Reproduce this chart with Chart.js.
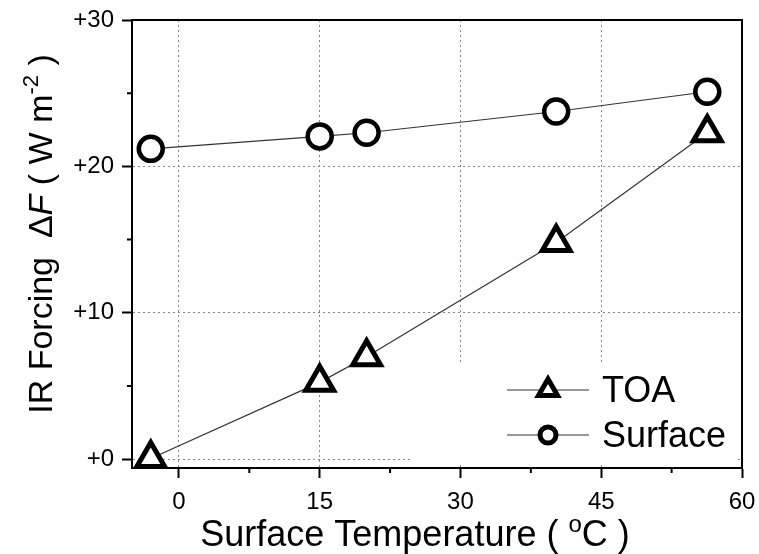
<!DOCTYPE html>
<html>
<head>
<meta charset="utf-8">
<script src="https://cdn.jsdelivr.net/npm/chart.js@4"></script>
<style>
body { margin: 0; background: #fff; }
</style>
</head>
<body>
<canvas id="chart" width="759" height="554"></canvas>
<script>
var temps = [-3, 15, 20, 40.2, 56.3];
var toa = [0.05, 5.25, 7.0, 14.8, 22.3];
var surface = [21.2, 22.05, 22.3, 23.75, 25.1];
var seriesNames = ['TOA', 'Surface'];
var xTicks = [0, 15, 30, 45, 60];
var yTicks = [0, 10, 20, 30];
var xMinor = [7.5, 22.5, 37.5, 52.5];
var yMinor = [5, 15, 25];

var FONT = '"Liberation Sans", Arial, sans-serif';

function points(ys) {
  return temps.map(function (t, i) { return {x: t, y: ys[i]}; });
}

// draws a run of text pieces one after another, [text, font, raise]
function drawPieces(ctx, pieces, x, y, align) {
  var total = 0;
  pieces.forEach(function (p) { ctx.font = p[1]; total += ctx.measureText(p[0]).width; });
  var cx = align === 'center' ? x - total / 2 : x;
  pieces.forEach(function (p) {
    ctx.font = p[1];
    ctx.fillText(p[0], cx, y - (p[2] || 0));
    cx += ctx.measureText(p[0]).width;
  });
}

function noPad(s) {
  s.paddingLeft = 0; s.paddingRight = 0; s.paddingTop = 0; s.paddingBottom = 0;
}

var extras = {
  id: 'extras',
  afterDatasetsDraw: function (chart) {
    var ctx = chart.ctx, a = chart.chartArea;
    ctx.save();
    // legend inside the plot, bottom right
    ctx.fillStyle = '#fff';
    ctx.fillRect(a.right - 330, a.bottom - 106, 326, 100);
    var lx = a.right - 235, ly = a.bottom - 78;
    chart.data.datasets.forEach(function (ds, i) {
      var y = ly + i * 45;
      ctx.strokeStyle = ds.borderColor;
      ctx.lineWidth = ds.borderWidth;
      ctx.beginPath();
      ctx.moveTo(lx, y);
      ctx.lineTo(lx + 82, y);
      ctx.stroke();
      ctx.fillStyle = '#fff';
      ctx.strokeStyle = '#000';
      ctx.lineWidth = 5;
      Chart.helpers.drawPoint(ctx, {
        pointStyle: ds.pointStyle,
        radius: ds.pointStyle === 'triangle' ? 11 : 8,
        borderWidth: 5,
        rotation: 0
      }, lx + 41, y);
      ctx.fillStyle = '#000';
      ctx.font = '36px ' + FONT;
      ctx.textBaseline = 'middle';
      ctx.textAlign = 'left';
      ctx.fillText(ds.label, lx + 95, y + 2);
    });
    ctx.restore();
  },
  afterDraw: function (chart) {
    var ctx = chart.ctx, a = chart.chartArea;
    var xs = chart.scales.x, ys = chart.scales.y;
    ctx.save();
    ctx.strokeStyle = '#000';
    ctx.lineWidth = 2;
    ctx.strokeRect(a.left, a.top, a.right - a.left, a.bottom - a.top);
    ctx.beginPath();
    yMinor.forEach(function (v) {
      var y = ys.getPixelForValue(v);
      ctx.moveTo(a.left - 5, y);
      ctx.lineTo(a.left, y);
    });
    xMinor.forEach(function (v) {
      var x = xs.getPixelForValue(v);
      ctx.moveTo(x, a.bottom);
      ctx.lineTo(x, a.bottom + 5);
    });
    ctx.stroke();

    // axis titles
    ctx.fillStyle = '#000';
    ctx.textBaseline = 'alphabetic';
    ctx.textAlign = 'left';
    var f = '36px ' + FONT, fs = '24px ' + FONT;
    drawPieces(ctx, [
      ['Surface Temperature ( ', f],
      ['o', fs, 14],
      ['C )', f]
    ], 415, 546, 'center');

    ctx.translate(52, 234);
    ctx.rotate(-Math.PI / 2);
    drawPieces(ctx, [
      ['IR Forcing  \u0394', '34px ' + FONT],
      ['F', 'italic 34px ' + FONT],
      [' ( W m', '34px ' + FONT],
      ['-2', '22px ' + FONT, 14],
      [' )', '34px ' + FONT]
    ], 0, 0, 'center');
    ctx.restore();
  }
};

new Chart(document.getElementById('chart').getContext('2d'), {
  type: 'line',
  data: {
    datasets: [{
      label: seriesNames[0],
      data: points(toa),
      borderColor: '#333',
      borderWidth: 1.2,
      pointStyle: 'triangle',
      pointRadius: 16,
      pointBorderWidth: 5,
      pointBorderColor: '#000',
      pointBackgroundColor: '#fff',
      tension: 0,
      clip: 0
    }, {
      label: seriesNames[1],
      data: points(surface),
      borderColor: '#333',
      borderWidth: 1.2,
      pointStyle: 'circle',
      pointRadius: 12,
      pointBorderWidth: 4.5,
      pointBorderColor: '#000',
      pointBackgroundColor: '#fff',
      tension: 0,
      clip: 0
    }]
  },
  options: {
    responsive: false,
    animation: false,
    layout: { autoPadding: false, padding: { top: 20, right: 17, left: 0, bottom: 0 } },
    plugins: { legend: { display: false }, tooltip: { enabled: false } },
    scales: {
      x: {
        type: 'linear',
        min: -5,
        max: 60,
        afterBuildTicks: function (s) { s.ticks = xTicks.map(function (v) { return {value: v}; }); },
        afterFit: function (s) { s.height = 86; noPad(s); },
        grid: { color: '#888', lineWidth: 1, tickColor: '#000', tickWidth: 2, tickLength: 10 },
        border: { color: '#000', width: 2, dash: [2, 3] },
        ticks: { color: '#000', font: { family: FONT, size: 24 }, padding: 10, maxRotation: 0 }
      },
      y: {
        min: -0.6,
        max: 30,
        afterBuildTicks: function (s) { s.ticks = yTicks.map(function (v) { return {value: v}; }); },
        afterFit: function (s) { s.width = 132; noPad(s); },
        grid: { color: '#888', lineWidth: 1, tickColor: '#000', tickWidth: 2, tickLength: 10 },
        border: { color: '#000', width: 2, dash: [2, 3] },
        ticks: {
          color: '#000',
          font: { family: FONT, size: 24 },
          padding: 8,
          callback: function (v) { return '+' + v; }
        }
      }
    }
  },
  plugins: [extras]
});
</script>
</body>
</html>
